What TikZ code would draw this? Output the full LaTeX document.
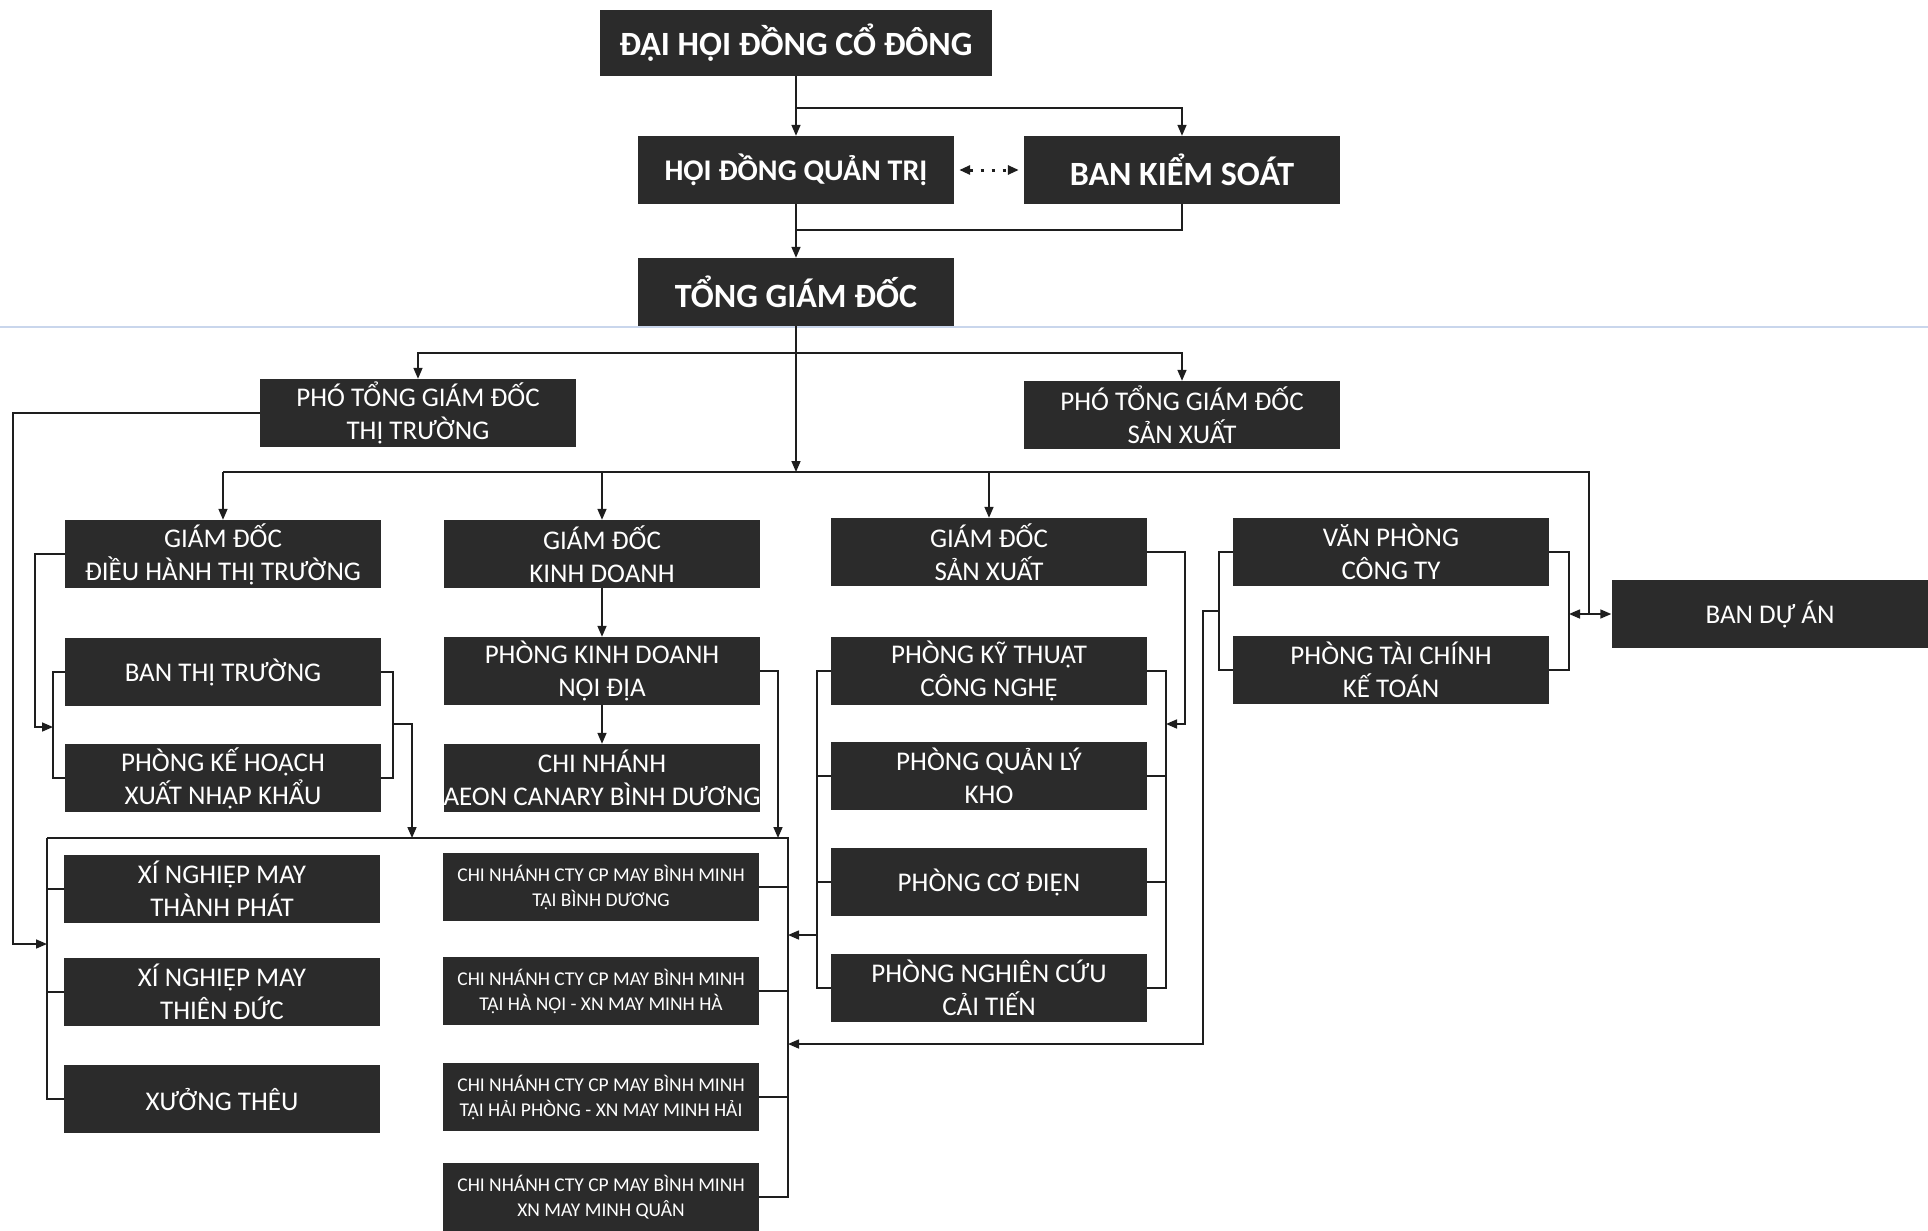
\documentclass[tikz,border=0pt]{standalone}
\usepackage{fontspec}
\setmainfont{Carlito}
\usetikzlibrary{arrows.meta}
\definecolor{grisCaja}{HTML}{2B2B2B}
\definecolor{grisLinea}{HTML}{1E1E1E}
\definecolor{azulRaya}{HTML}{C9D6EC}

\begin{document}
\begin{tikzpicture}[x=1pt, y=-1pt,
    >={Triangle[length=11pt,width=9pt]},
    caja/.style={fill=grisCaja, text=white, minimum width=316pt, minimum height=68pt,
        inner sep=0pt, align=center, font=\fontsize{27}{33}\selectfont},
    cajaGrande/.style={caja, font=\fontsize{34}{40}\selectfont\bfseries},
    cajaChica/.style={caja, font=\fontsize{19.5}{25}\selectfont},
    con/.style={draw=grisLinea, line width=1.6pt}]
    \useasboundingbox (0,0) rectangle (1928,1231);

    % Raya del papel
    \draw[azulRaya, line width=2pt] (0,327) -- (1928,327);

    % Cajas de la direccion
    \node[cajaGrande, minimum width=392pt, minimum height=66pt] (dhdcd) at (796,43) {ĐẠI HỘI ĐỒNG CỔ ĐÔNG};
    \node[cajaGrande, font=\fontsize{30}{36}\selectfont\bfseries] (hdqt) at (796,170) {HỘI ĐỒNG QUẢN TRỊ};
    \node[cajaGrande] (bks) at (1182,170) {BAN KIỂM SOÁT};
    \node[cajaGrande] (tgd) at (796,292) {TỔNG GIÁM ĐỐC};
    \node[caja] (ptgdtt) at (418,413) {PHÓ TỔNG GIÁM ĐỐC\\THỊ TRƯỜNG};
    \node[caja] (ptgdsx) at (1182,415) {PHÓ TỔNG GIÁM ĐỐC\\SẢN XUẤT};

    % Cajas de los departamentos
    \node[caja] (gddhtt) at (223,554) {GIÁM ĐỐC\\ĐIỀU HÀNH THỊ TRƯỜNG};
    \node[caja] (gdkd) at (602,554) {GIÁM ĐỐC\\KINH DOANH};
    \node[caja] (gdsx) at (989,552) {GIÁM ĐỐC\\SẢN XUẤT};
    \node[caja] (vpct) at (1391,552) {VĂN PHÒNG\\CÔNG TY};
    \node[caja, minimum width=317pt] (bda) at (1770,614) {BAN DỰ ÁN};
    \node[caja] (btt) at (223,672) {BAN THỊ TRƯỜNG};
    \node[caja] (khxnk) at (223,778) {PHÒNG KẾ HOẠCH\\XUẤT NHẬP KHẨU};
    \node[caja] (pkdnd) at (602,671) {PHÒNG KINH DOANH\\NỘI ĐỊA};
    \node[caja] (cnaeon) at (602,778) {CHI NHÁNH\\AEON CANARY BÌNH DƯƠNG};
    \node[caja] (pktcn) at (989,671) {PHÒNG KỸ THUẬT\\CÔNG NGHỆ};
    \node[caja] (pqlk) at (989,776) {PHÒNG QUẢN LÝ\\KHO};
    \node[caja] (pcd) at (989,882) {PHÒNG CƠ ĐIỆN};
    \node[caja] (pncct) at (989,988) {PHÒNG NGHIÊN CỨU\\CẢI TIẾN};
    \node[caja] (ptckt) at (1391,670) {PHÒNG TÀI CHÍNH\\KẾ TOÁN};

    % Cajas de produccion
    \node[caja] (xntp) at (222,889) {XÍ NGHIỆP MAY\\THÀNH PHÁT};
    \node[caja] (xntd) at (222,992) {XÍ NGHIỆP MAY\\THIÊN ĐỨC};
    \node[caja] (xuong) at (222,1099) {XƯỞNG THÊU};
    \node[cajaChica] (cnbd) at (601,887) {CHI NHÁNH CTY CP MAY BÌNH MINH\\TẠI BÌNH DƯƠNG};
    \node[cajaChica] (cnhn) at (601,991) {CHI NHÁNH CTY CP MAY BÌNH MINH\\TẠI HÀ NỘI - XN MAY MINH HÀ};
    \node[cajaChica] (cnhp) at (601,1097) {CHI NHÁNH CTY CP MAY BÌNH MINH\\TẠI HẢI PHÒNG - XN MAY MINH HẢI};
    \node[cajaChica] (cnmq) at (601,1197) {CHI NHÁNH CTY CP MAY BÌNH MINH\\XN MAY MINH QUÂN};

    % Puntos de union
    \coordinate (r1) at (796,108);
    \coordinate (r2) at (796,230);
    \coordinate (r3) at (796,353);
    \coordinate (r4) at (796,472);
    \coordinate (r5) at (1589,472);
    \coordinate (r6) at (1589,614);
    \coordinate (vpDer) at (1569,614);
    \coordinate (vpIzq) at (1219,611);
    \coordinate (vpBaja) at (1203,611);
    \coordinate (sxDer) at (1166,724);
    \coordinate (ktIzq) at (817,935);
    \coordinate (cnBarra) at (788,935);
    \coordinate (cnBarra2) at (788,1044);
    \coordinate (marco) at (47,838);
    \coordinate (marcoDer) at (788,838);
    \coordinate (marcoIzq) at (47,944);
    \coordinate (ttIzq) at (13,413);
    \coordinate (dhIzq) at (53,727);
    \coordinate (kdDer) at (393,724);
    \coordinate (kdBaja) at (412,838);
    \coordinate (ndBaja) at (778,838);

    % Conectores de arriba
    \draw[con, ->] (dhdcd) -- (hdqt);
    \draw[con, ->] (r1) -| (bks);
    \draw[con, <->, line width=3pt, dash pattern=on 3pt off 8pt] ([xshift=5pt]hdqt.east) -- ([xshift=-5pt]bks.west);
    \draw[con, ->] (hdqt) -- (tgd);
    \draw[con] (bks) |- (r2);
    \draw[con, ->] (tgd) -- (r4);
    \draw[con, ->] (r3) -| (ptgdtt);
    \draw[con, ->] (r3) -| (ptgdsx);

    % Linea de los directores
    \draw[con] (gddhtt.north |- r4) -- (r5) -- (r6);
    \foreach \n in {gddhtt, gdkd, gdsx}
        \draw[con, ->] (\n.north |- r4) -- (\n);
    \draw[con, <->] (vpDer) -- (bda);

    % Van phong y tai chinh
    \draw[con] (vpct.east) -| (vpDer) |- (ptckt.east);
    \draw[con] (vpct.west) -| (vpIzq) |- (ptckt.west);
    \draw[con, ->] (vpIzq) -- (vpBaja) |- (cnBarra2);

    % San xuat
    \draw[con, ->] (gdsx.east) -- ++(38,0) |- (sxDer);
    \draw[con] (pktcn.east) -| (sxDer) |- (pncct.east);
    \draw[con] (pktcn.west) -| (ktIzq) |- (pncct.west);
    \foreach \n in {pqlk, pcd} {
        \draw[con] (\n.east) -- (\n.east -| sxDer);
        \draw[con] (\n.west) -- (\n.west -| ktIzq);
    }
    \draw[con, ->] (ktIzq) -- (cnBarra);

    % Kinh doanh
    \draw[con, ->] (gdkd) -- (pkdnd);
    \draw[con, ->] (pkdnd) -- (cnaeon);
    \draw[con, ->] (pkdnd.east) -| (ndBaja);

    % Thi truong
    \draw[con, ->] (gddhtt.west) -- ++(-30,0) |- (dhIzq);
    \draw[con] (btt.west) -| (dhIzq) |- (khxnk.west);
    \draw[con] (btt.east) -| (kdDer) |- (khxnk.east);
    \draw[con, ->] (kdDer) -| (kdBaja);
    \draw[con, ->] (ptgdtt.west) -- (ttIzq) |- (marcoIzq);

    % Marco de produccion
    \draw[con] (marco) -- (marcoDer) |- (cnmq.east);
    \draw[con] (marco) |- (xuong.west);
    \foreach \n in {xntp, xntd}
        \draw[con] (\n.west) -- (\n.west -| marco);
    \foreach \n in {cnbd, cnhn, cnhp}
        \draw[con] (\n.east) -- (\n.east -| marcoDer);
\end{tikzpicture}
\end{document}
